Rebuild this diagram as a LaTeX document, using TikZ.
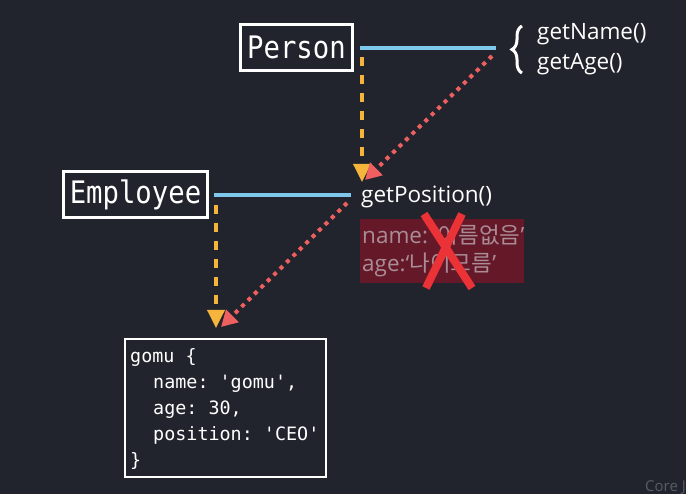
\documentclass[tikz,border=0pt]{standalone}
\usepackage{fontspec}
\setmainfont{Open Sans}
\newfontfamily\codefont{DejaVu Sans Mono}[FakeStretch=0.88]
\newfontfamily\gomufont{DejaVu Sans Mono}
\newfontfamily\krfont{Noto Sans CJK KR}
\usetikzlibrary{arrows.meta,decorations.pathreplacing}
\definecolor{bg}{RGB}{33,36,44}
\definecolor{linkblue}{RGB}{125,200,235}
\definecolor{protoorange}{RGB}{245,180,60}
\definecolor{protored}{RGB}{238,95,95}
\definecolor{hidefill}{RGB}{100,24,40}
\definecolor{hidetext}{RGB}{170,140,150}
\definecolor{crossred}{RGB}{235,50,55}
\definecolor{wmgray}{RGB}{88,92,102}
\frenchspacing
\begin{document}
\begin{tikzpicture}[x=1pt,y=-1pt,
  classbox/.style={draw=white, line width=3pt, fill=bg, text=white,
    font=\codefont\fontsize{31}{31}\selectfont, inner sep=0pt},
  method/.style={text=white, font=\fontsize{22.5}{22.5}\selectfont, inner sep=0pt, anchor=base west},
  hidden/.style={text=hidetext, font=\fontsize{22.5}{22.5}\selectfont, inner sep=0pt, anchor=base west},
  code/.style={text=white, font=\gomufont\fontsize{18.4}{18.4}\selectfont\frenchspacing, inner sep=0pt, anchor=base west},
  link/.style={linkblue, line width=4pt},
  protoarrow/.style={protoorange, line width=3.5pt, dash pattern=on 9pt off 9pt,
    -{Triangle[width=17pt,length=18pt]}},
  dotarrow/.style={protored, line width=4pt, dash pattern=on 4pt off 5pt,
    -{Triangle[width=17pt,length=16pt]}},
]
\fill[bg] (0,0) rectangle (686,494);
\useasboundingbox (0,0) rectangle (686,494);

% classes
\node[classbox, minimum width=112pt, minimum height=46pt] (person) at (296.5,47.5) {Person};
\node[classbox, minimum width=144pt, minimum height=46pt] (employee) at (135.5,194.5) {Employee};

% Person prototype methods
\coordinate (pl) at (360,48);
\coordinate (pr) at (496,48);
\draw[link] (pl) -- (pr);
\coordinate (bt) at (522,26);
\coordinate (bb) at (522,73);
\draw[white, line width=3pt, decorate, decoration={brace, amplitude=10pt}] (bb) -- (bt);
\node[method] (getname) at (537,39.5) {getName()};
\node[method] (getage) at (537,69.5) {getAge()};

% Employee prototype
\coordinate (el) at (214,195);
\coordinate (er) at (351,195);
\draw[link] (el) -- (er);
\node[method] (getpos) at (361,203) {getPosition()};

% hidden fields
\node[fill=hidefill, minimum width=164pt, minimum height=64pt, inner sep=0pt, anchor=north west] (hidebox) at (360,219) {};
\node[hidden] (hname) at (362,244) {name: ‘{\krfont 이름없음}’};
\node[hidden] (hage) at (362,272) {age:‘{\krfont 나이모름}’};
\coordinate (x1) at (424,214);
\coordinate (x2) at (472,288);
\coordinate (x3) at (462,214);
\coordinate (x4) at (426,288);
\draw[crossred, line width=8pt] (x1) -- (x2);
\draw[crossred, line width=8pt] (x3) -- (x4);

% instance
\node[draw=white, line width=2pt, minimum width=201pt, minimum height=138pt, inner sep=0pt] (gomu) at (225.5,408) {};
\node[code] (l1) at (130,363) {gomu \{};
\node[code] (l2) at (153,389) {name: 'gomu',};
\node[code] (l3) at (153,415) {age: 30,};
\node[code] (l4) at (153,441) {position: 'CEO'};
\node[code] (l5) at (130,467) {\}};

% arrows
\coordinate (o1s) at (362,57);
\coordinate (o1e) at (362,182);
\coordinate (o2s) at (216,205);
\coordinate (o2e) at (216,328);
\coordinate (r1s) at (492,56);
\coordinate (r1e) at (365,180);
\coordinate (r2s) at (347,203);
\coordinate (r2e) at (221,327);
\draw[protoarrow] (o1s) -- (o1e);
\draw[protoarrow] (o2s) -- (o2e);
\draw[dotarrow] (r1s) -- (r1e);
\draw[dotarrow] (r2s) -- (r2e);

\node[text=wmgray, font=\fontsize{15}{15}\selectfont, inner sep=0pt, anchor=base west] (wm) at (645,491) {Core J};
\end{tikzpicture}
\end{document}
